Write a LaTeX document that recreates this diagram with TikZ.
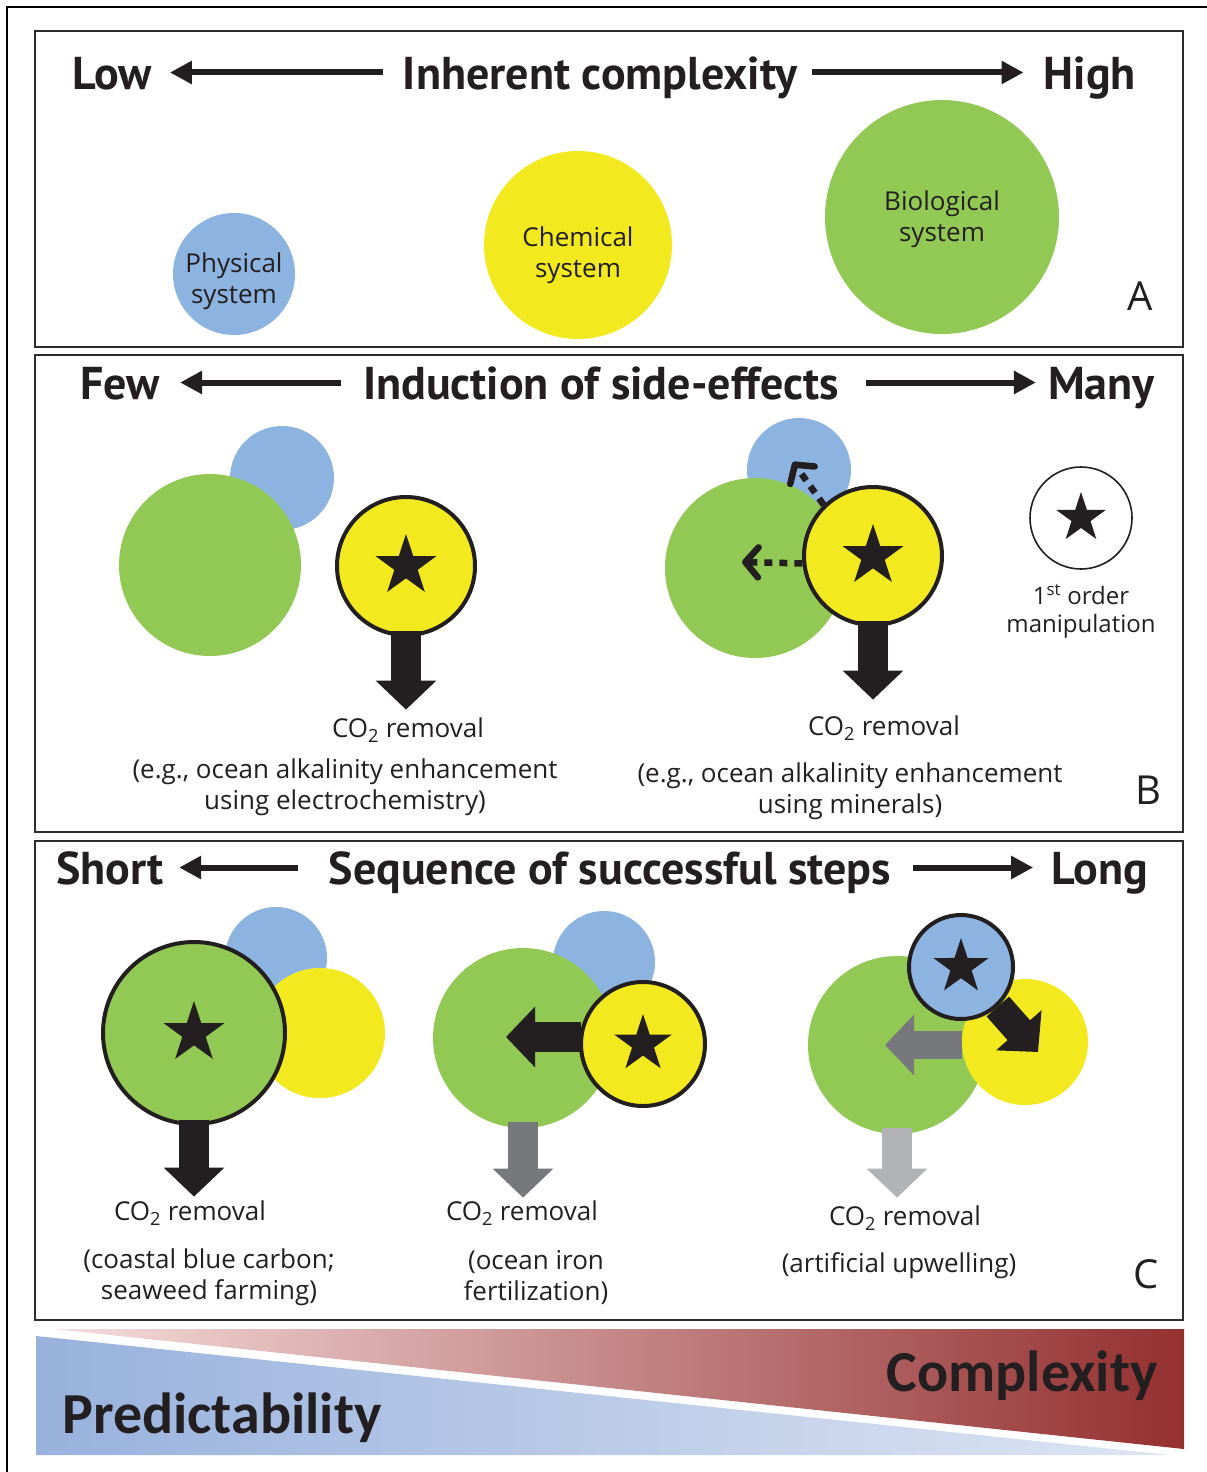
\documentclass[tikz,border=0pt]{standalone}
\usepackage{fontspec}
\setmainfont{Open Sans}
\newfontfamily\headfont{PT Sans}
\newfontfamily\barfont{Carlito}
\usetikzlibrary{shapes.geometric, arrows.meta, positioning, calc}

\definecolor{physblue}{RGB}{141, 180, 224}
\definecolor{chemyellow}{RGB}{242, 234, 30}
\definecolor{biogreen}{RGB}{146, 201, 84}
\definecolor{inkblack}{RGB}{35, 31, 32}
\definecolor{midgray}{RGB}{119, 120, 123}
\definecolor{palegray}{RGB}{177, 179, 182}
\definecolor{framegray}{RGB}{45, 45, 45}
\definecolor{predblue}{RGB}{152, 178, 221}
\definecolor{predpale}{RGB}{222, 229, 243}
\definecolor{cplxpink}{RGB}{245, 220, 220}
\definecolor{cplxred}{RGB}{148, 48, 48}

\tikzset{
  panel/.style={draw=framegray, line width=2.2pt},
  blob/.style={circle, inner sep=0pt, minimum size=#1},
  manip/.style={circle, draw=inkblack, line width=4pt, inner sep=0pt, minimum size=#1},
  starmark/.style={star, star points=5, star point ratio=2.6, fill=inkblack, inner sep=0pt, minimum size=#1},
  headtxt/.style={font=\headfont\bfseries\fontsize{46}{46}\selectfont, text=inkblack, inner sep=0pt, text height=33pt, text depth=0pt},
  bodytxt/.style={font=\fontsize{26}{31}\selectfont, text=inkblack, align=center, inner sep=0pt},
  letter/.style={font=\fontsize{40}{40}\selectfont, text=inkblack, inner sep=0pt},
  scalearrow/.style={line width=6pt, inkblack, -{Triangle[length=22pt, width=22pt]}},
  bigarrow/.style={line width=30pt, -{Triangle[length=29pt, width=59pt]}},
  sidearrow/.style={line width=6.5pt, inkblack, dash pattern=on 8pt off 7pt, -{Straight Barb[length=13pt, width=30pt, round]}},
  bartxt/.style={font=\barfont\bfseries\fontsize{58}{58}\selectfont, text=inkblack, inner sep=0pt}
}

\begin{document}
\begin{tikzpicture}[x=1pt, y=-1pt]
  \useasboundingbox (0,0) rectangle (1207,1472);
  \draw[line width=2pt] (7,1480) -- (7,7) -- (1215,7);

  % A: inherent complexity
  \draw[panel] (35,31) rectangle (1183,347);
  \node[headtxt, anchor=base] (inh) at (600,89) {Inherent complexity};
  \node[headtxt, anchor=base west] (low) at (72,89) {Low};
  \node[headtxt, anchor=base east] (high) at (1136,89) {High};
  \draw[scalearrow, shorten <=20pt, shorten >=18pt] (inh.west) -- (low.east);
  \draw[scalearrow, shorten <=15pt, shorten >=20pt] (inh.east) -- (high.west);
  \node[blob=122pt, fill=physblue] (phys) at (234,274) {};
  \node[bodytxt] (physlbl) at (234,281) {Physical\\system};
  \node[blob=188pt, fill=chemyellow] (chem) at (578,245) {};
  \node[bodytxt] (chemlbl) at (578,255) {Chemical\\system};
  \node[blob=234pt, fill=biogreen] (bio) at (942,217) {};
  \node[bodytxt] (biolbl) at (942,219) {Biological\\system};
  \node[letter] (letA) at (1140,296) {A};

  % B: side-effects
  \draw[panel] (35,355) rectangle (1183,832);
  \node[headtxt, anchor=base] (ind) at (601,399) {Induction of side-effects};
  \node[headtxt, anchor=base west] (few) at (80,399) {Few};
  \node[headtxt, anchor=base east] (many) at (1155,399) {Many};
  \draw[scalearrow, shorten <=22pt, shorten >=20pt] (ind.west) -- (few.east);
  \draw[scalearrow, shorten <=27pt, shorten >=12pt] (ind.east) -- (many.west);

  \node[blob=104pt, fill=physblue] (blueL) at (282,478) {};
  \node[blob=182pt, fill=biogreen] (greenL) at (210,565) {};
  \node[manip=138pt, fill=chemyellow] (yelL) at (406,566) {};
  \node[starmark=64pt] at (yelL) {};
  \node[bodytxt] (co2L) at (408,730) {CO\textsubscript{2} removal};
  \node[bodytxt] (egL) at (345,787) {(e.g., ocean alkalinity enhancement\\using electrochemistry)};
  \draw[bigarrow, inkblack, shorten <=-6pt, shorten >=8pt] (yelL.south) -- (yelL.south |- co2L.north);

  \node[blob=104pt, fill=physblue] (blueR) at (799,470) {};
  \node[blob=180pt, fill=biogreen] (greenR) at (755,568) {};
  \node[manip=138pt, fill=chemyellow] (yelR) at (873,556) {};
  \node[starmark=64pt] at (yelR) {};
  \coordinate (gtip) at (742,562);
  \coordinate (btip) at (793,462);
  \draw[sidearrow] (yelR.186) -- (gtip);
  \draw[sidearrow] (yelR.134) -- (btip);
  \node[bodytxt] (co2R) at (884,728) {CO\textsubscript{2} removal};
  \node[bodytxt] (egR) at (850,791) {(e.g., ocean alkalinity enhancement\\using minerals)};
  \draw[bigarrow, inkblack, shorten <=-6pt, shorten >=16pt] (yelR.south) -- (yelR.south |- co2R.north);

  \node[circle, draw=inkblack, line width=1.6pt, minimum size=102pt, inner sep=0pt] (legend) at (1081,518) {};
  \node[starmark=52pt] at (legend) {};
  \node[bodytxt, font=\fontsize{24}{28}\selectfont, below=14pt of legend] (legtxt) {1\textsuperscript{st} order\\manipulation};
  \node[letter] (letB) at (1148,790) {B};

  % C: sequence of steps
  \draw[panel] (35,841) rectangle (1183,1320);
  \node[headtxt, anchor=base] (seq) at (610,884) {Sequence of successful steps};
  \node[headtxt, anchor=base west] (short) at (56,884) {Short};
  \node[headtxt, anchor=base east] (long) at (1148,884) {Long};
  \draw[scalearrow, shorten <=31pt, shorten >=15pt] (seq.west) -- (short.east);
  \draw[scalearrow, shorten <=22pt, shorten >=18pt] (seq.east) -- (long.west);

  \node[blob=102pt, fill=physblue] (blue1) at (276,958) {};
  \node[blob=130pt, fill=chemyellow] (yel1) at (320,1033) {};
  \node[manip=182pt, fill=biogreen] (green1) at (194,1033) {};
  \node[starmark=64pt] at (green1) {};
  \node[bodytxt] (co21) at (190,1213) {CO\textsubscript{2} removal};
  \node[bodytxt] (ex1) at (209,1277) {(coastal blue carbon;\\seaweed farming)};
  \draw[bigarrow, inkblack, shorten <=-6pt, shorten >=4pt] (green1.south) -- (green1.south |- co21.north);

  \node[blob=102pt, fill=physblue] (blue2) at (604,962) {};
  \node[blob=180pt, fill=biogreen] (green2) at (523,1038) {};
  \node[manip=124pt, fill=chemyellow] (yel2) at (643,1044) {};
  \node[starmark=60pt] at (yel2) {};
  \coordinate (ltip2) at (506,1037);
  \draw[bigarrow, inkblack, shorten <=-2pt] (yel2.west |- ltip2) -- (ltip2);
  \node[bodytxt] (co22) at (522,1213) {CO\textsubscript{2} removal};
  \node[bodytxt] (ex2) at (536,1277) {(ocean iron\\fertilization)};
  \draw[bigarrow, midgray, shorten <=-6pt, shorten >=3pt] (green2.south) -- (green2.south |- co22.north);

  \node[blob=178pt, fill=biogreen] (green3) at (897,1045) {};
  \node[blob=126pt, fill=chemyellow] (yel3) at (1025,1042) {};
  \coordinate (ltip3) at (885,1045);
  \draw[bigarrow, midgray, line width=28pt] (yel3.west |- ltip3) -- (ltip3);
  \coordinate (dtip) at (1038,1052);
  \node[manip=104pt, fill=physblue] (blue3) at (961,967) {};
  \draw[bigarrow, inkblack] (blue3.-47) -- (dtip);
  \node[starmark=58pt] at (blue3) {};
  \node[bodytxt] (co23) at (905,1218) {CO\textsubscript{2} removal};
  \node[bodytxt] (ex3) at (899,1266) {(artificial upwelling)};
  \draw[bigarrow, palegray, shorten <=-6pt, shorten >=8pt] (green3.south) -- (green3.south |- co23.north);
  \node[letter] (letC) at (1146,1274) {C};

  % predictability vs complexity
  \shade[left color=predblue, right color=predpale] (36,1336) -- (36,1455) -- (1170,1455) -- cycle;
  \shade[left color=cplxpink, right color=cplxred] (54,1329) -- (1184,1329) -- (1184,1449) -- cycle;
  \node[bartxt, anchor=base west] (pred) at (62,1433) {Predictability};
  \node[bartxt, anchor=base east] (cplx) at (1158,1391) {Complexity};
\end{tikzpicture}
\end{document}
